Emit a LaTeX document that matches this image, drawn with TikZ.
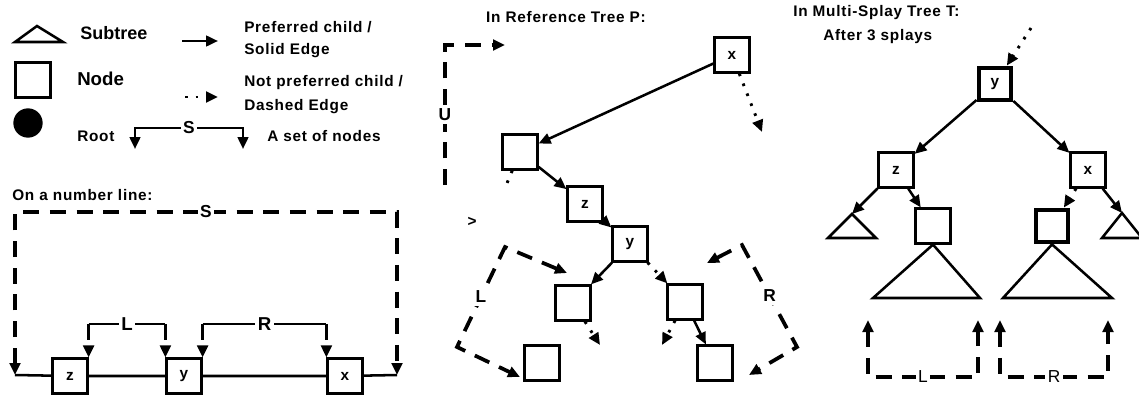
\documentclass[tikz,border=0pt]{standalone}
\usepackage{fontspec}
\setmainfont{Liberation Sans}[LetterSpace=5]
\newfontfamily\tightfont{Liberation Sans}
\usetikzlibrary{arrows.meta}

\tikzset{
  box/.style={draw,line width=1.9pt,fill=white,minimum size=26pt,inner sep=0pt},
  thickbox/.style={box,line width=3.6pt,minimum size=24pt},
  pref/.style={->,line width=1.9pt},
  nonpref/.style={->,line width=2.2pt,dash pattern=on 2pt off 6pt},
  setline/.style={line width=2.8pt,dash pattern=on 12pt off 8pt},
  lbl/.style={anchor=west,inner sep=0pt},
  tag/.style={fill=white,inner sep=2pt,font=\fontsize{13}{15}\selectfont\bfseries},
}

\begin{document}
\begin{tikzpicture}[x=0.75pt,y=-0.75pt,>={Triangle[length=9pt,width=8pt]},
  font=\fontsize{11.5}{13}\selectfont\bfseries]
\useasboundingbox (0,0) rectangle (1139,396);
\clip (0,0) rectangle (1139,396);

\draw[line width=1.9pt] (15,42) -- (37,26) -- (63,42) -- cycle;
\node at (33,80) [box] (keynode) {};
\node at (28,123) [circle,fill,minimum size=22pt] (keyroot) {};
\node at (80,33) [lbl,font=\fontsize{13.5}{15}\selectfont\tightfont\bfseries] (keysub) {Subtree};
\node at (77,79) [lbl,font=\fontsize{14}{15}\selectfont\tightfont\bfseries] (keynodetxt) {Node};
\node at (77,136) [lbl] (keyroottxt) {Root};
\node at (244,27) [lbl] (keypref) {Preferred child /};
\node at (244,51) [lbl] (keysolid) {Solid Edge};
\node at (244,83) [lbl] (keynonpref) {Not preferred child /};
\node at (244,107) [lbl] (keydashed) {Dashed Edge};
\node at (267,136) [lbl] (keyset) {A set of nodes};
\coordinate (k1) at (182,41);
\coordinate (k2) at (218,41);
\coordinate (k3) at (185,97);
\coordinate (k4) at (218,97);
\coordinate (k5) at (135,149);
\coordinate (k6) at (135,128);
\coordinate (k7) at (243,128);
\coordinate (k8) at (243,149);
\draw[pref] (k1) -- (k2);
\draw[nonpref] (k3) -- (k4);
\draw[<->,line width=1.9pt] (k5) -- (k6) -- node[tag]{S} (k7) -- (k8);

\node at (12,195) [lbl] (numline) {On a number line:};
\node at (70,376) [box] (Nz) {z};
\node at (184,376) [box] (Ny) {y};
\node at (345,376) [box] (Nx) {x};
\coordinate (N0) at (15,375);
\coordinate (N1) at (397,375);
\coordinate (S0) at (15,212);
\coordinate (S1) at (397,212);
\draw[line width=1.9pt] (N0) -- (Nz) -- (Ny) -- (Nx) -- (N1);
\draw[setline,<->] (N0) -- (S0) -- node[tag]{S} (S1) -- (N1);
\coordinate (L0) at ([yshift=25pt]Nz.north east);
\coordinate (L1) at ([yshift=25pt]Ny.north west);
\coordinate (R0) at ([yshift=25pt]Ny.north east);
\coordinate (R1) at ([yshift=25pt]Nx.north west);
\draw[setline,->] (L0) -- (Nz.north east);
\draw[setline,->] (L1) -- (Ny.north west);
\draw[setline,->] (R0) -- (Ny.north east);
\draw[setline,->] (R1) -- (Nx.north west);
\draw[line width=1.9pt] (L0) -- node[tag,font=\fontsize{14}{15}\selectfont\bfseries]{L} (L1);
\draw[line width=1.9pt] (R0) -- node[tag,font=\fontsize{14}{15}\selectfont\bfseries]{R} (R1);

\node at (566,17) (titleP) {In Reference Tree P:};
\node at (732,55) [box] (Px) {x};
\node at (520,152) [box] (Pa) {};
\node at (585,204) [box] (Pz) {z};
\node at (630,244) [box] (Py) {y};
\node at (573,303) [box] (Pl) {};
\node at (685,302) [box] (Pr) {};
\node at (542,363) [box] (Pll) {};
\node at (715,363) [box] (Prr) {};
\coordinate (Pxr) at (762,132);
\coordinate (Pal) at (505,188);
\coordinate (Plr) at (600,345);
\coordinate (Prl) at (662,345);
\draw[pref] (Px) -- (Pa);
\draw[nonpref] (Px) -- (Pxr);
\draw[nonpref,-] (Pa) -- (Pal);
\draw[pref] (Pa) -- (Pz);
\draw[pref] (Pz) -- (Py);
\draw[pref] (Py) -- (Pl);
\draw[nonpref] (Py) -- (Pr);
\draw[nonpref] (Pl) -- (Plr);
\draw[nonpref] (Pr) -- (Prl);
\draw[pref] (Pr) -- (Prr);
\coordinate (U0) at (445,185);
\coordinate (U1) at (445,45);
\coordinate (U2) at (505,45);
\draw[setline,->] (U0) -- node[tag]{U} (U1) -- (U2);
\node at (472,222) (gt) {>};
\coordinate (PLa) at (567,273);
\coordinate (PL0) at (505,247);
\coordinate (PL1) at (457,347);
\coordinate (PLb) at (520,377);
\draw[setline,<->] (PLa) -- (PL0) -- node[tag]{L} (PL1) -- (PLb);
\coordinate (PRa) at (707,263);
\coordinate (PR0) at (742,245);
\coordinate (PR1) at (797,347);
\coordinate (PRb) at (749,375);
\draw[setline,<->] (PRa) -- (PR0) -- node[tag]{R} (PR1) -- (PRb);

\node at (793,13) [lbl] (titleT) {In Multi-Splay Tree T:};
\node at (823,37) [lbl] (splays) {After 3 splays};
\node at (995,84) [thickbox] (Ty) {y};
\node at (896,170) [box] (Tz) {z};
\node at (1088,170) [box] (Tx) {x};
\node at (933,226) [box] (Tzr) {};
\node at (1052,226) [thickbox] (Txl) {};
\coordinate (Ttop) at (1031,28);
\coordinate (Tzl) at (852,214);
\coordinate (Txr) at (1122,213);
\draw[nonpref] (Ttop) -- (Ty);
\draw[pref] (Ty) -- (Tz);
\draw[pref] (Ty) -- (Tx);
\draw[pref] (Tz) -- (Tzl);
\draw[pref] (Tz) -- (Tzr);
\draw[nonpref] (Tx) -- (Txl);
\draw[pref] (Tx) -- (Txr);
\draw[line width=1.9pt] (Tzl) -- (828,238) -- (876,238) -- cycle;
\draw[line width=1.9pt] (Txr) -- (1102,238) -- (1142,238) -- cycle;
\draw[line width=1.9pt] (Tzr.south) -- (873,298) -- (980,298) -- cycle;
\draw[line width=1.9pt] (Txl.south) -- (1003,298) -- (1112,298) -- cycle;
\coordinate (TLa) at (868,320);
\coordinate (TLb) at (868,377);
\coordinate (TLc) at (978,377);
\coordinate (TLd) at (978,320);
\coordinate (TRa) at (1000,320);
\coordinate (TRb) at (1000,377);
\coordinate (TRc) at (1108,377);
\coordinate (TRd) at (1108,320);
\draw[setline,<->] (TLa) -- (TLb) -- node[tag,font=\fontsize{13}{15}\selectfont\mdseries]{L} (TLc) -- (TLd);
\draw[setline,<->] (TRa) -- (TRb) -- node[tag,font=\fontsize{13}{15}\selectfont\mdseries]{R} (TRc) -- (TRd);
\end{tikzpicture}
\end{document}
